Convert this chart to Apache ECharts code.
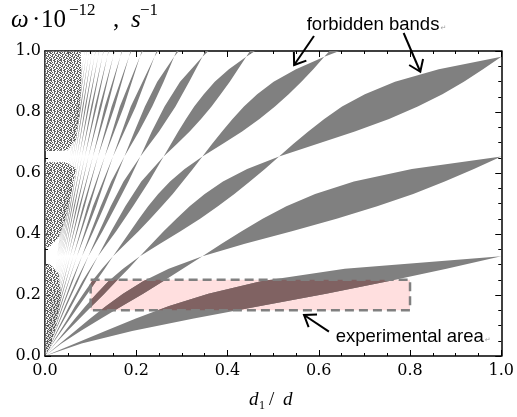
<!DOCTYPE html>
<html><head><meta charset="utf-8">
<script src="https://cdn.jsdelivr.net/npm/echarts/dist/echarts.min.js"></script>
<style>html,body{margin:0;padding:0;background:#fff}#c{width:517px;height:417px}</style>
</head><body><div id="c"></div>
<script>
// ---- axis ticks ----
const xTickValues = [0, 0.2, 0.4, 0.6, 0.8, 1.0];
const yTickValues = [0, 0.2, 0.4, 0.6, 0.8, 1.0];

// ---- forbidden bands: outline [d1/d, omega] ----
const band1 = [[0,0],[0.080,0.041],[0.191,0.082],[0.326,0.123],[0.472,0.164],[0.616,0.204],[0.752,0.245],[0.880,0.286],[1,0.327],[0.657,0.286],[0.473,0.245],[0.358,0.204],[0.272,0.164],[0.199,0.123],[0.132,0.082],[0.066,0.041]];
const band2 = [[0,0],[0.036,0.041],[0.078,0.082],[0.123,0.123],[0.169,0.164],[0.215,0.204],[0.259,0.245],[0.302,0.286],[0.345,0.327],[0.438,0.368],[0.541,0.409],[0.639,0.450],[0.728,0.491],[0.807,0.531],[0.876,0.572],[0.940,0.613],[1,0.654],[0.804,0.613],[0.677,0.572],[0.592,0.531],[0.529,0.491],[0.477,0.450],[0.431,0.409],[0.387,0.368],[0.345,0.327],[0.271,0.286],[0.215,0.245],[0.171,0.204],[0.134,0.164],[0.099,0.123],[0.066,0.082],[0.033,0.041]];
const band3 = [[0,0],[0.023,0.041],[0.049,0.082],[0.076,0.123],[0.103,0.164],[0.130,0.204],[0.156,0.245],[0.183,0.286],[0.208,0.327],[0.252,0.368],[0.297,0.409],[0.340,0.450],[0.379,0.491],[0.415,0.531],[0.449,0.572],[0.482,0.613],[0.513,0.654],[0.596,0.695],[0.679,0.736],[0.754,0.777],[0.817,0.818],[0.871,0.858],[0.918,0.899],[0.960,0.940],[1,0.981],[0.863,0.940],[0.767,0.899],[0.701,0.858],[0.651,0.818],[0.612,0.777],[0.577,0.736],[0.544,0.695],[0.513,0.654],[0.443,0.613],[0.390,0.572],[0.350,0.531],[0.317,0.491],[0.288,0.450],[0.260,0.409],[0.234,0.368],[0.208,0.327],[0.171,0.286],[0.139,0.245],[0.113,0.204],[0.089,0.164],[0.066,0.123],[0.044,0.082],[0.022,0.041]];
const band4 = [[0,0],[0.017,0.041],[0.036,0.082],[0.055,0.123],[0.074,0.164],[0.093,0.204],[0.112,0.245],[0.131,0.286],[0.149,0.327],[0.177,0.368],[0.205,0.409],[0.231,0.450],[0.256,0.491],[0.280,0.531],[0.302,0.572],[0.324,0.613],[0.345,0.654],[0.389,0.695],[0.432,0.736],[0.470,0.777],[0.504,0.818],[0.534,0.858],[0.562,0.899],[0.588,0.940],[0.612,0.981],[0.684,1.022],[0.637,1.022],[0.612,0.981],[0.550,0.940],[0.501,0.899],[0.465,0.858],[0.436,0.818],[0.411,0.777],[0.388,0.736],[0.366,0.695],[0.345,0.654],[0.306,0.613],[0.274,0.572],[0.248,0.531],[0.226,0.491],[0.206,0.450],[0.187,0.409],[0.168,0.368],[0.149,0.327],[0.125,0.286],[0.103,0.245],[0.084,0.204],[0.066,0.164],[0.050,0.123],[0.033,0.082],[0.016,0.041]];
const band5 = [[0,0],[0.028,0.082],[0.058,0.164],[0.087,0.245],[0.116,0.327],[0.156,0.409],[0.193,0.491],[0.228,0.572],[0.260,0.654],[0.289,0.695],[0.317,0.736],[0.342,0.777],[0.365,0.818],[0.385,0.858],[0.405,0.899],[0.423,0.940],[0.441,0.981],[0.483,1.022],[0.459,1.022],[0.441,0.981],[0.403,0.940],[0.372,0.899],[0.348,0.858],[0.327,0.818],[0.309,0.777],[0.292,0.736],[0.276,0.695],[0.260,0.654],[0.211,0.572],[0.176,0.491],[0.145,0.409],[0.116,0.327],[0.082,0.245],[0.053,0.164],[0.026,0.082]];
const band6 = [[0,0],[0.023,0.082],[0.047,0.164],[0.072,0.245],[0.095,0.327],[0.126,0.409],[0.155,0.491],[0.183,0.572],[0.209,0.654],[0.250,0.736],[0.286,0.818],[0.316,0.899],[0.345,0.981],[0.374,1.022],[0.359,1.022],[0.345,0.981],[0.296,0.899],[0.262,0.818],[0.234,0.736],[0.209,0.654],[0.172,0.572],[0.144,0.491],[0.119,0.409],[0.095,0.327],[0.068,0.245],[0.044,0.164],[0.022,0.082]];
const band7 = [[0,0],[0.020,0.082],[0.040,0.164],[0.061,0.245],[0.081,0.327],[0.106,0.409],[0.130,0.491],[0.152,0.572],[0.174,0.654],[0.206,0.736],[0.235,0.818],[0.260,0.899],[0.283,0.981],[0.305,1.022],[0.295,1.022],[0.283,0.981],[0.246,0.899],[0.219,0.818],[0.196,0.736],[0.174,0.654],[0.145,0.572],[0.122,0.491],[0.101,0.409],[0.081,0.327],[0.058,0.245],[0.038,0.164],[0.019,0.082]];
const band8 = [[0,0],[0.035,0.164],[0.070,0.327],[0.112,0.491],[0.149,0.654],[0.199,0.818],[0.240,0.981],[0.257,1.022],[0.250,1.022],[0.240,0.981],[0.188,0.818],[0.149,0.654],[0.105,0.491],[0.070,0.327],[0.033,0.164]];
const band9 = [[0,0],[0.031,0.164],[0.062,0.327],[0.098,0.491],[0.131,0.654],[0.173,0.818],[0.208,0.981],[0.222,1.022],[0.217,1.022],[0.208,0.981],[0.164,0.818],[0.131,0.654],[0.093,0.491],[0.062,0.327],[0.029,0.164]];
const band10 = [[0,0],[0.028,0.164],[0.055,0.327],[0.087,0.491],[0.116,0.654],[0.153,0.818],[0.184,0.981],[0.196,1.022],[0.192,1.022],[0.184,0.981],[0.146,0.818],[0.116,0.654],[0.083,0.491],[0.055,0.327],[0.026,0.164]];
const band11 = [[0,0],[0.025,0.164],[0.050,0.327],[0.078,0.491],[0.105,0.654],[0.137,0.818],[0.165,0.981],[0.175,1.022],[0.172,1.022],[0.165,0.981],[0.131,0.818],[0.105,0.654],[0.075,0.491],[0.050,0.327],[0.024,0.164]];
const band12 = [[0,0],[0.0228,0.164],[0.0457,0.327],[0.0713,0.491],[0.0953,0.654],[0.1241,0.818],[0.1493,0.981],[0.1582,1.022],[0.1555,1.022],[0.1493,0.981],[0.1195,0.818],[0.0953,0.654],[0.0687,0.491],[0.0457,0.327],[0.0220,0.164]];
const band13 = [[0,0],[0.0210,0.164],[0.0420,0.327],[0.0654,0.491],[0.0874,0.654],[0.1134,0.818],[0.1364,0.981],[0.1443,1.022],[0.1421,1.022],[0.1364,0.981],[0.1095,0.818],[0.0874,0.654],[0.0632,0.491],[0.0420,0.327],[0.0203,0.164]];
const band14 = [[0,0],[0.0194,0.164],[0.0389,0.327],[0.0604,0.491],[0.0807,0.654],[0.1044,0.818],[0.1256,0.981],[0.1327,1.022],[0.1308,1.022],[0.1256,0.981],[0.1011,0.818],[0.0807,0.654],[0.0585,0.491],[0.0389,0.327],[0.0189,0.164]];
const band15 = [[0,0],[0.0181,0.164],[0.0363,0.327],[0.0561,0.491],[0.0750,0.654],[0.0967,0.818],[0.1164,0.981],[0.1228,1.022],[0.1212,1.022],[0.1164,0.981],[0.0939,0.818],[0.0750,0.654],[0.0545,0.491],[0.0363,0.327],[0.0176,0.164]];
const band16 = [[0,0],[0.0169,0.164],[0.0339,0.327],[0.0524,0.491],[0.0700,0.654],[0.0901,0.818],[0.1084,0.981],[0.1143,1.022],[0.1129,1.022],[0.1084,0.981],[0.0877,0.818],[0.0700,0.654],[0.0510,0.491],[0.0339,0.327],[0.0165,0.164]];
const band17 = [[0,0],[0.0159,0.164],[0.0319,0.327],[0.0491,0.491],[0.0656,0.654],[0.0843,0.818],[0.1014,0.981],[0.1068,1.022],[0.1056,1.022],[0.1014,0.981],[0.0822,0.818],[0.0656,0.654],[0.0479,0.491],[0.0319,0.327],[0.0155,0.164]];
const band18 = [[0,0],[0.0150,0.164],[0.0300,0.327],[0.0462,0.491],[0.0618,0.654],[0.0793,0.818],[0.0953,0.981],[0.1003,1.022],[0.0993,1.022],[0.0953,0.981],[0.0774,0.818],[0.0618,0.654],[0.0452,0.491],[0.0300,0.327],[0.0147,0.164]];
const band19 = [[0,0],[0.0142,0.164],[0.0284,0.327],[0.0437,0.491],[0.0583,0.654],[0.0748,0.818],[0.0899,0.981],[0.0946,1.022],[0.0936,1.022],[0.0899,0.981],[0.0731,0.818],[0.0583,0.654],[0.0427,0.491],[0.0284,0.327],[0.0139,0.164]];
const band20 = [[0,0],[0.0135,0.164],[0.0270,0.327],[0.0414,0.491],[0.0553,0.654],[0.0707,0.818],[0.0850,0.981],[0.0894,1.022],[0.0886,1.022],[0.0850,0.981],[0.0692,0.818],[0.0553,0.654],[0.0405,0.491],[0.0270,0.327],[0.0132,0.164]];

// ---- speckled numerical-noise zones near d1/d = 0 ----
const noiseUpper = [[0,1],[0.078,1],[0.080,0.92],[0.076,0.80],[0.068,0.71],[0.050,0.675],[0.020,0.672],[0,0.672]];
const noiseMiddle = [[0,0.635],[0.045,0.635],[0.068,0.615],[0.060,0.55],[0.045,0.45],[0.030,0.39],[0.012,0.36],[0,0.355]];
const noiseLower = [[0,0.30],[0.012,0.30],[0.030,0.27],[0.035,0.20],[0.025,0.10],[0.012,0.03],[0,0]];

// ---- experimental area: [d1/d min, d1/d max], [omega min, omega max] ----
const expX = [0.1, 0.8];
const expY = [0.15, 0.25];

// ---- annotations ----
const noteTexts = ['forbidden bands', 'experimental area'];
const notePos = [[0.719, 1.085], [0.637, 0.062]];
const arrowFrom = [[0.5895, 1.049], [0.786, 1.059], [0.6223, 0.0797]];
const arrowTo = [[0.546, 0.954], [0.8225, 0.932], [0.5677, 0.1344]];

const bandList = [band1,band2,band3,band4,band5,band6,band7,band8,band9,band10,band11,band12,band13,band14,band15,band16,band17,band18,band19,band20];
const noiseList = [noiseUpper, noiseMiddle, noiseLower];

// speckle texture for the noise zones (fixed hand-drawn tile)
const tile = document.createElement('canvas');
tile.width = 10; tile.height = 10;
(function () {
  const ctx = tile.getContext('2d');
  const mask = ['XX.XX..X.X', '.X..XX.XX.', 'X.X.X..X.X', 'XX..X.XX..', '..XX.X..XX', 'X.X..XX.X.', '.XX.X..XX.', 'X..XX.X..X', '.X.X..XX.X', 'XX..XX..X.'];
  ctx.fillStyle = 'rgba(80,80,80,0.9)';
  mask.forEach((row, r) => { for (let c = 0; c < row.length; c++) if (row[c] === 'X') ctx.fillRect(c, r, 1, 1); });
})();

const chart = echarts.init(document.getElementById('c'), null, {renderer: 'canvas'});

function expRect(api) {
  const p0 = api.coord([expX[0], expY[0]]);
  const p1 = api.coord([expX[1], expY[1]]);
  return {x: p0[0], y: p1[1], width: p1[0] - p0[0], height: p0[1] - p1[1]};
}

const bandSeries = {
  type: 'custom', name: 'forbidden bands', coordinateSystem: 'cartesian2d',
  clip: true, silent: true, z: 2, animation: false,
  data: bandList.map((p, i) => [0.5, 0.5, i]),
  encode: {x: 0, y: 1},
  renderItem: function (params, api) {
    const pts = bandList[params.dataIndex].map(p => api.coord(p));
    return {type: 'group', children: [
      {type: 'polygon', shape: {points: pts}, style: {fill: '#808080'}},
      {type: 'polygon', shape: {points: pts}, style: {fill: '#806262'},
        clipPath: {type: 'rect', shape: expRect(api)}}
    ]};
  }
};

const noiseSeries = {
  type: 'custom', name: 'noise', coordinateSystem: 'cartesian2d',
  clip: true, silent: true, z: 3, animation: false,
  data: noiseList.map((p, i) => [0.5, 0.5, i]),
  encode: {x: 0, y: 1},
  renderItem: function (params, api) {
    const pts = noiseList[params.dataIndex].map(p => api.coord(p));
    return {type: 'group', children: [
      {type: 'polygon', shape: {points: pts}, style: {fill: 'rgba(255,255,255,0.4)'}},
      {type: 'polygon', shape: {points: pts}, style: {fill: {image: tile, repeat: 'repeat'}}}
    ]};
  }
};

const expFill = {
  type: 'custom', name: 'experimental area fill', coordinateSystem: 'cartesian2d', silent: true, z: 1, animation: false,
  data: [[expX[0], expY[0]]],
  renderItem: function (params, api) {
    return {type: 'rect', shape: expRect(api), style: {fill: '#ffdfdf'}};
  }
};
const expBorder = {
  type: 'custom', name: 'experimental area', coordinateSystem: 'cartesian2d', silent: true, z: 5, animation: false,
  data: [[expX[0], expY[0]]],
  renderItem: function (params, api) {
    return {type: 'rect', shape: expRect(api), style: {fill: 'none', stroke: '#808080', lineWidth: 2.5, lineDash: [9, 5]}};
  }
};

const serifLabel = {fontFamily: 'DejaVu Serif', fontSize: 16, color: '#000'};
const axisLineStyle = {color: '#000', width: 1.5};
function ax(kind, pos, showLabel, ticks) {
  return {type: 'value', position: pos, min: 0, max: 1, interval: ticks[1] - ticks[0],
    axisLine: {show: true, onZero: false, lineStyle: axisLineStyle},
    axisTick: {show: true, inside: true, length: 6, lineStyle: {color: '#000', width: 1}},
    minorTick: {show: true, splitNumber: 4, length: 3, lineStyle: {color: '#000', width: 1}},
    splitLine: {show: false}, minorSplitLine: {show: false},
    axisLabel: Object.assign({show: showLabel, margin: kind === 'x' ? 7 : 4, formatter: v => v.toFixed(1)}, serifLabel)};
}

chart.setOption({
  animation: false,
  backgroundColor: '#fff',
  grid: {left: 45, right: 14, top: 51, bottom: 61, show: false},
  xAxis: [ax('x', 'bottom', true, xTickValues), ax('x', 'top', false, xTickValues)],
  yAxis: [ax('y', 'left', true, yTickValues), ax('y', 'right', false, yTickValues)],
  series: [expFill, bandSeries, noiseSeries, expBorder]
});

// ---- text and arrows ----
const g = [];
const serif = 'Liberation Serif';
function txt(str, x, y, size, italic) {
  g.push({type: 'text', z: 100, style: {text: str, x: x, y: y,
    font: (italic ? 'italic ' : '') + size + 'px "' + serif + '"', fill: '#000',
    textAlign: 'left', textVerticalAlign: 'middle', align: 'left', verticalAlign: 'middle'}});
}
// y-axis title: ω·10^-12, s^-1
txt('ω', 11, 20, 25, true);
txt('·', 32, 20, 25, false);
txt('10', 41, 20, 25, false);
txt('−12', 69, 11, 17, false);
txt(',', 113, 20, 25, false);
txt('s', 131, 20, 25, true);
txt('−1', 140, 11, 17, false);
// x-axis title: d1 / d
txt('d', 249, 400, 19, true);
txt('1', 259, 406, 12, false);
txt('/', 269, 400, 19, false);
txt('d', 283, 400, 19, true);

function px(p) { return chart.convertToPixel({gridIndex: 0}, p); }
noteTexts.forEach((t, i) => {
  const p = px(notePos[i]);
  const centered = i === 0;
  g.push({type: 'text', z: 100, style: {text: t, x: p[0], y: p[1], font: '18.5px "Liberation Sans"', fill: '#000',
    textAlign: centered ? 'center' : 'left', align: centered ? 'center' : 'left', textVerticalAlign: 'middle', verticalAlign: 'middle'}});
  const ex = centered ? p[0] + 7.17 * 18.5 / 2 + 1 : p[0] + 8.0 * 18.5 + 1;
  g.push({type: 'text', z: 100, style: {text: '↵', x: ex, y: p[1] + 3, font: '7px "DejaVu Sans"', fill: '#a0a0a0',
    textAlign: 'left', align: 'left', textVerticalAlign: 'middle', verticalAlign: 'middle'}});
});
arrowFrom.forEach((f, i) => {
  const a = px(f), b = px(arrowTo[i]);
  const ang = Math.atan2(a[1] - b[1], a[0] - b[0]);
  const L = 13, h = 0.62;
  const p1 = [b[0] + L * Math.cos(ang + h), b[1] + L * Math.sin(ang + h)];
  const p2 = [b[0] + L * Math.cos(ang - h), b[1] + L * Math.sin(ang - h)];
  g.push({type: 'line', z: 100, shape: {x1: a[0], y1: a[1], x2: b[0], y2: b[1]}, style: {stroke: '#000', lineWidth: 2}});
  g.push({type: 'polyline', z: 100, shape: {points: [p1, b, p2]}, style: {stroke: '#000', lineWidth: 2, fill: 'none'}});
});
chart.setOption({graphic: g});
</script>
</body></html>
